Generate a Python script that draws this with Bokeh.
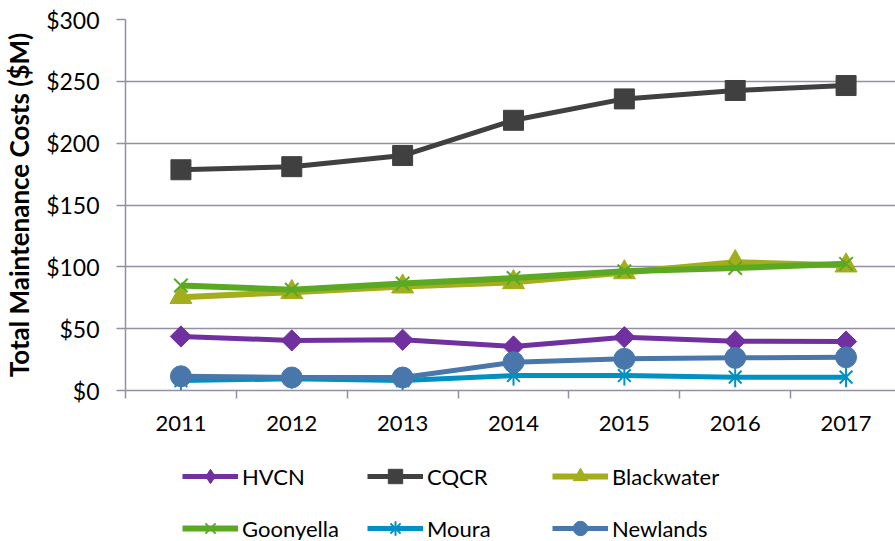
import math
from bokeh.plotting import figure
from bokeh.layouts import column
from bokeh.models import (Range1d, FixedTicker, NumeralTickFormatter, Legend, LegendItem)
from bokeh.embed import file_html
from bokeh.resources import INLINE

years = [2011, 2012, 2013, 2014, 2015, 2016, 2017]
hvcn = [43.7, 40.5, 41.0, 35.6, 43.1, 39.9, 39.6]
cqcr = [178.5, 181.0, 190.0, 218.5, 235.8, 242.6, 246.6]
blackwater = [75.5, 79.5, 84.0, 87.5, 95.5, 103.7, 101.0]
goonyella = [84.9, 81.5, 86.5, 91.0, 96.5, 99.0, 102.4]
moura = [8.0, 9.5, 8.0, 12.1, 12.1, 10.8, 10.8]
newlands = [11.5, 10.5, 10.5, 22.9, 25.6, 26.4, 26.9]
y_ticks = [0, 50, 100, 150, 200, 250, 300]
names = ["HVCN", "CQCR", "Blackwater", "Goonyella", "Moura", "Newlands"]
colors = ["#7030A0", "#404040", "#A2AE1B", "#5BA923", "#0090C2", "#4A77AB"]

GRID = "#958FA5"
FONT = "Lato"
W = 895

p = figure(width=W, height=440, output_backend="svg", toolbar_location=None,
           x_range=Range1d(2010.5, 2010.5 + 771 / 111.0), y_range=Range1d(0, 300),
           min_border_top=19, min_border_left=124, min_border_right=0, min_border_bottom=50)
p.outline_line_color = None
p.xgrid.grid_line_color = None
p.ygrid.grid_line_color = GRID
p.ygrid.grid_line_width = 1.5
p.ygrid.ticker = FixedTicker(ticks=y_ticks)

xa = p.xaxis[0]
xa.ticker = FixedTicker(ticks=years, minor_ticks=[2010.5 + i for i in range(8)])
xa.major_tick_out = 0
xa.major_tick_in = 0
xa.minor_tick_out = 8
xa.minor_tick_in = 0
xa.minor_tick_line_color = GRID
xa.minor_tick_line_width = 1.5
xa.axis_line_color = GRID
xa.axis_line_width = 1.5
xa.major_label_text_font = FONT
xa.major_label_text_font_size = "22px"
xa.major_label_text_color = "black"
xa.major_label_standoff = 17
xa.major_label_overrides = {y: str(y) for y in years}

ya = p.yaxis[0]
ya.ticker = FixedTicker(ticks=y_ticks)
ya.formatter = NumeralTickFormatter(format="$0")
ya.major_tick_out = 9
ya.major_tick_in = 0
ya.major_tick_line_color = GRID
ya.major_tick_line_width = 1.5
ya.minor_tick_line_color = None
ya.axis_line_color = GRID
ya.axis_line_width = 1.5
ya.major_label_text_font = FONT
ya.major_label_text_font_size = "23px"
ya.major_label_text_color = "black"
ya.major_label_standoff = 17
ya.axis_label = "Total Maintenance Costs ($M)"
ya.axis_label_text_font = FONT
ya.axis_label_text_font_size = "26px"
ya.axis_label_text_font_style = "bold"
ya.axis_label_text_color = "black"
ya.axis_label_standoff = 8

series_vals = [hvcn, cqcr, blackwater, goonyella, moura, newlands]


def draw(fig, name, xs, vals, col, in_legend=False):
    lw = 6 if name in ("Blackwater", "Goonyella") else 5
    rs = [fig.line(xs, vals, line_color=col, line_width=lw, line_join="round")]
    if name == "HVCN":
        if in_legend:
            rs.append(fig.scatter(xs, vals, marker="diamond", size=20,
                                  fill_color=col, line_color=col))
        else:
            rs.append(fig.scatter(xs, vals, marker="square", angle=math.pi / 4, size=15,
                                  fill_color=col, line_color=col))
    elif name == "CQCR":
        rs.append(fig.scatter(xs, vals, marker="square", size=20, fill_color=col, line_color=col))
    elif name == "Blackwater":
        rs.append(fig.scatter(xs, vals, marker="triangle", size=22, fill_color=col, line_color=col))
    elif name == "Goonyella":
        rs.append(fig.scatter(xs, vals, marker="x", size=19, line_color=col, line_width=2))
    elif name == "Moura":
        if in_legend:
            rs.append(fig.scatter(xs, vals, marker="asterisk", size=18, line_color=col, line_width=2))
        else:
            rs.append(fig.scatter(xs, vals, marker="x", size=18, line_color=col, line_width=2))
            rs.append(fig.scatter(xs, vals, marker="dash", angle=math.pi / 2, size=20,
                                  line_color=col, line_width=2))
    elif name == "Newlands":
        rs.append(fig.scatter(xs, vals, marker="circle", size=21, fill_color=col, line_color=col))
    return rs


for name, vals, col in zip(names, series_vals, colors):
    draw(p, name, years, vals, col)

# legend strip beneath the chart
lf = figure(width=W, height=100, output_backend="svg", toolbar_location=None,
            x_range=Range1d(0, 1), y_range=Range1d(0, 1),
            min_border=0, x_axis_type=None, y_axis_type=None)
lf.outline_line_color = None
lf.grid.grid_line_color = None
items = []
for name, vals, col in zip(names, series_vals, colors):
    rs = draw(lf, name, [-10, -9], [-10, -9], col, in_legend=True)
    items.append(LegendItem(label=name, renderers=rs))

legend = Legend(items=items, orientation="horizontal", ncols=3, location=(57, -6))
legend.border_line_color = None
legend.background_fill_alpha = 0
legend.padding = 0
legend.margin = 0
legend.spacing = 16
legend.glyph_width = 56
legend.glyph_height = 36
legend.label_height = 36
legend.label_width = 109
legend.label_standoff = 4
legend.label_text_font = FONT
legend.label_text_font_size = "22px"
legend.label_text_color = "black"
lf.add_layout(legend, "center")

open("out.html", "w").write(file_html(column(p, lf, spacing=0), INLINE))
